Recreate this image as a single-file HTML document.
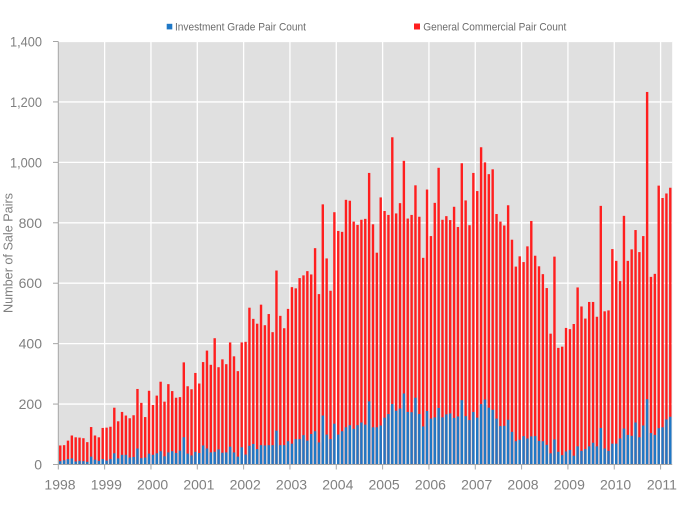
<!DOCTYPE html>
<html>
<head>
<meta charset="utf-8">
<style>
  html,body{margin:0;padding:0;background:#fff;}
  svg{display:block;}
  text{font-family:"Liberation Sans",sans-serif;}
</style>
</head>
<body>
<svg width="700" height="506" viewBox="0 0 700 506" xmlns="http://www.w3.org/2000/svg">
  <!-- plot background -->
  <rect x="58.3" y="41.5" width="613.9" height="423" fill="#e0e0e0"/>
  <!-- horizontal gridlines -->
  <g stroke="#ffffff" stroke-width="1.3">
    <line x1="58.3" x2="672.2" y1="404.07" y2="404.07"/>
    <line x1="58.3" x2="672.2" y1="343.64" y2="343.64"/>
    <line x1="58.3" x2="672.2" y1="283.21" y2="283.21"/>
    <line x1="58.3" x2="672.2" y1="222.79" y2="222.79"/>
    <line x1="58.3" x2="672.2" y1="162.36" y2="162.36"/>
    <line x1="58.3" x2="672.2" y1="101.93" y2="101.93"/>
    <line x1="58.3" x2="672.2" y1="41.5" y2="41.5"/>
  </g>
  <!-- vertical gridlines -->
  <g stroke="#ffffff" stroke-width="1.3">
    <line y1="41.5" y2="464.5" x1="104.63" x2="104.63"/>
    <line y1="41.5" y2="464.5" x1="150.96" x2="150.96"/>
    <line y1="41.5" y2="464.5" x1="197.29" x2="197.29"/>
    <line y1="41.5" y2="464.5" x1="243.62" x2="243.62"/>
    <line y1="41.5" y2="464.5" x1="289.95" x2="289.95"/>
    <line y1="41.5" y2="464.5" x1="336.28" x2="336.28"/>
    <line y1="41.5" y2="464.5" x1="382.61" x2="382.61"/>
    <line y1="41.5" y2="464.5" x1="428.94" x2="428.94"/>
    <line y1="41.5" y2="464.5" x1="475.27" x2="475.27"/>
    <line y1="41.5" y2="464.5" x1="521.60" x2="521.60"/>
    <line y1="41.5" y2="464.5" x1="567.93" x2="567.93"/>
    <line y1="41.5" y2="464.5" x1="614.26" x2="614.26"/>
    <line y1="41.5" y2="464.5" x1="660.59" x2="660.59"/>
  </g>

  <!-- bars: x unit = month index, y unit = count -->
  <g transform="translate(59.05,464.5) scale(3.861,-0.302143)">
    <g fill="#ff1f1f">
      <rect x="0" width="0.62" height="63"/><rect x="1" width="0.62" height="64"/><rect x="2" width="0.62" height="79"/><rect x="3" width="0.62" height="96"/><rect x="4" width="0.62" height="90"/><rect x="5" width="0.62" height="89"/><rect x="6" width="0.62" height="87"/><rect x="7" width="0.62" height="74"/><rect x="8" width="0.62" height="124"/><rect x="9" width="0.62" height="96"/><rect x="10" width="0.62" height="90"/><rect x="11" width="0.62" height="121"/>
      <rect x="12" width="0.62" height="122"/><rect x="13" width="0.62" height="125"/><rect x="14" width="0.62" height="188"/><rect x="15" width="0.62" height="143"/><rect x="16" width="0.62" height="174"/><rect x="17" width="0.62" height="162"/><rect x="18" width="0.62" height="153"/><rect x="19" width="0.62" height="163"/><rect x="20" width="0.62" height="250"/><rect x="21" width="0.62" height="204"/><rect x="22" width="0.62" height="157"/><rect x="23" width="0.62" height="244"/>
      <rect x="24" width="0.62" height="197"/><rect x="25" width="0.62" height="228"/><rect x="26" width="0.62" height="274"/><rect x="27" width="0.62" height="208"/><rect x="28" width="0.62" height="266"/><rect x="29" width="0.62" height="243"/><rect x="30" width="0.62" height="221"/><rect x="31" width="0.62" height="223"/><rect x="32" width="0.62" height="338"/><rect x="33" width="0.62" height="259"/><rect x="34" width="0.62" height="249"/><rect x="35" width="0.62" height="303"/>
      <rect x="36" width="0.62" height="268"/><rect x="37" width="0.62" height="339"/><rect x="38" width="0.62" height="377"/><rect x="39" width="0.62" height="330"/><rect x="40" width="0.62" height="418"/><rect x="41" width="0.62" height="322"/><rect x="42" width="0.62" height="348"/><rect x="43" width="0.62" height="332"/><rect x="44" width="0.62" height="404"/><rect x="45" width="0.62" height="358"/><rect x="46" width="0.62" height="309"/><rect x="47" width="0.62" height="404"/>
      <rect x="48" width="0.62" height="406"/><rect x="49" width="0.62" height="519"/><rect x="50" width="0.62" height="482"/><rect x="51" width="0.62" height="466"/><rect x="52" width="0.62" height="529"/><rect x="53" width="0.62" height="461"/><rect x="54" width="0.62" height="498"/><rect x="55" width="0.62" height="438"/><rect x="56" width="0.62" height="642"/><rect x="57" width="0.62" height="492"/><rect x="58" width="0.62" height="451"/><rect x="59" width="0.62" height="515"/>
      <rect x="60" width="0.62" height="587"/><rect x="61" width="0.62" height="583"/><rect x="62" width="0.62" height="617"/><rect x="63" width="0.62" height="626"/><rect x="64" width="0.62" height="640"/><rect x="65" width="0.62" height="629"/><rect x="66" width="0.62" height="716"/><rect x="67" width="0.62" height="564"/><rect x="68" width="0.62" height="861"/><rect x="69" width="0.62" height="682"/><rect x="70" width="0.62" height="575"/><rect x="71" width="0.62" height="835"/>
      <rect x="72" width="0.62" height="773"/><rect x="73" width="0.62" height="770"/><rect x="74" width="0.62" height="876"/><rect x="75" width="0.62" height="873"/><rect x="76" width="0.62" height="804"/><rect x="77" width="0.62" height="793"/><rect x="78" width="0.62" height="810"/><rect x="79" width="0.62" height="813"/><rect x="80" width="0.62" height="965"/><rect x="81" width="0.62" height="795"/><rect x="82" width="0.62" height="701"/><rect x="83" width="0.62" height="884"/>
      <rect x="84" width="0.62" height="839"/><rect x="85" width="0.62" height="826"/><rect x="86" width="0.62" height="1083"/><rect x="87" width="0.62" height="831"/><rect x="88" width="0.62" height="865"/><rect x="89" width="0.62" height="1005"/><rect x="90" width="0.62" height="814"/><rect x="91" width="0.62" height="826"/><rect x="92" width="0.62" height="924"/><rect x="93" width="0.62" height="820"/><rect x="94" width="0.62" height="684"/><rect x="95" width="0.62" height="910"/>
      <rect x="96" width="0.62" height="756"/><rect x="97" width="0.62" height="866"/><rect x="98" width="0.62" height="982"/><rect x="99" width="0.62" height="810"/><rect x="100" width="0.62" height="822"/><rect x="101" width="0.62" height="809"/><rect x="102" width="0.62" height="853"/><rect x="103" width="0.62" height="786"/><rect x="104" width="0.62" height="997"/><rect x="105" width="0.62" height="874"/><rect x="106" width="0.62" height="792"/><rect x="107" width="0.62" height="965"/>
      <rect x="108" width="0.62" height="905"/><rect x="109" width="0.62" height="1050"/><rect x="110" width="0.62" height="1000"/><rect x="111" width="0.62" height="961"/><rect x="112" width="0.62" height="977"/><rect x="113" width="0.62" height="829"/><rect x="114" width="0.62" height="804"/><rect x="115" width="0.62" height="791"/><rect x="116" width="0.62" height="858"/><rect x="117" width="0.62" height="744"/><rect x="118" width="0.62" height="655"/><rect x="119" width="0.62" height="689"/>
      <rect x="120" width="0.62" height="670"/><rect x="121" width="0.62" height="722"/><rect x="122" width="0.62" height="806"/><rect x="123" width="0.62" height="691"/><rect x="124" width="0.62" height="656"/><rect x="125" width="0.62" height="630"/><rect x="126" width="0.62" height="584"/><rect x="127" width="0.62" height="433"/><rect x="128" width="0.62" height="688"/><rect x="129" width="0.62" height="386"/><rect x="130" width="0.62" height="390"/><rect x="131" width="0.62" height="452"/>
      <rect x="132" width="0.62" height="448"/><rect x="133" width="0.62" height="465"/><rect x="134" width="0.62" height="586"/><rect x="135" width="0.62" height="523"/><rect x="136" width="0.62" height="483"/><rect x="137" width="0.62" height="538"/><rect x="138" width="0.62" height="538"/><rect x="139" width="0.62" height="489"/><rect x="140" width="0.62" height="856"/><rect x="141" width="0.62" height="507"/><rect x="142" width="0.62" height="510"/><rect x="143" width="0.62" height="713"/>
      <rect x="144" width="0.62" height="674"/><rect x="145" width="0.62" height="607"/><rect x="146" width="0.62" height="823"/><rect x="147" width="0.62" height="674"/><rect x="148" width="0.62" height="712"/><rect x="149" width="0.62" height="776"/><rect x="150" width="0.62" height="703"/><rect x="151" width="0.62" height="756"/><rect x="152" width="0.62" height="1233"/><rect x="153" width="0.62" height="621"/><rect x="154" width="0.62" height="631"/><rect x="155" width="0.62" height="923"/>
      <rect x="156" width="0.62" height="882"/><rect x="157" width="0.62" height="897"/><rect x="158" width="0.62" height="916"/>
    </g>
    <g fill="#1f78c6">
      <rect x="0" width="0.62" height="11"/><rect x="1" width="0.62" height="14"/><rect x="2" width="0.62" height="18"/><rect x="3" width="0.62" height="20"/><rect x="4" width="0.62" height="10"/><rect x="5" width="0.62" height="12"/><rect x="6" width="0.62" height="11"/><rect x="7" width="0.62" height="9"/><rect x="8" width="0.62" height="26"/><rect x="9" width="0.62" height="16"/><rect x="10" width="0.62" height="12"/><rect x="11" width="0.62" height="18"/>
      <rect x="12" width="0.62" height="13"/><rect x="13" width="0.62" height="18"/><rect x="14" width="0.62" height="37"/><rect x="15" width="0.62" height="20"/><rect x="16" width="0.62" height="32"/><rect x="17" width="0.62" height="32"/><rect x="18" width="0.62" height="23"/><rect x="19" width="0.62" height="25"/><rect x="20" width="0.62" height="53"/><rect x="21" width="0.62" height="21"/><rect x="22" width="0.62" height="23"/><rect x="23" width="0.62" height="36"/>
      <rect x="24" width="0.62" height="32"/><rect x="25" width="0.62" height="37"/><rect x="26" width="0.62" height="44"/><rect x="27" width="0.62" height="27"/><rect x="28" width="0.62" height="40"/><rect x="29" width="0.62" height="44"/><rect x="30" width="0.62" height="38"/><rect x="31" width="0.62" height="46"/><rect x="32" width="0.62" height="90"/><rect x="33" width="0.62" height="36"/><rect x="34" width="0.62" height="30"/><rect x="35" width="0.62" height="42"/>
      <rect x="36" width="0.62" height="38"/><rect x="37" width="0.62" height="63"/><rect x="38" width="0.62" height="53"/><rect x="39" width="0.62" height="40"/><rect x="40" width="0.62" height="42"/><rect x="41" width="0.62" height="50"/><rect x="42" width="0.62" height="39"/><rect x="43" width="0.62" height="40"/><rect x="44" width="0.62" height="59"/><rect x="45" width="0.62" height="40"/><rect x="46" width="0.62" height="26"/><rect x="47" width="0.62" height="57"/>
      <rect x="48" width="0.62" height="33"/><rect x="49" width="0.62" height="62"/><rect x="50" width="0.62" height="68"/><rect x="51" width="0.62" height="51"/><rect x="52" width="0.62" height="64"/><rect x="53" width="0.62" height="63"/><rect x="54" width="0.62" height="64"/><rect x="55" width="0.62" height="64"/><rect x="56" width="0.62" height="112"/><rect x="57" width="0.62" height="64"/><rect x="58" width="0.62" height="64"/><rect x="59" width="0.62" height="77"/>
      <rect x="60" width="0.62" height="69"/><rect x="61" width="0.62" height="84"/><rect x="62" width="0.62" height="84"/><rect x="63" width="0.62" height="97"/><rect x="64" width="0.62" height="79"/><rect x="65" width="0.62" height="101"/><rect x="66" width="0.62" height="110"/><rect x="67" width="0.62" height="73"/><rect x="68" width="0.62" height="162"/><rect x="69" width="0.62" height="99"/><rect x="70" width="0.62" height="84"/><rect x="71" width="0.62" height="135"/>
      <rect x="72" width="0.62" height="99"/><rect x="73" width="0.62" height="110"/><rect x="74" width="0.62" height="123"/><rect x="75" width="0.62" height="130"/><rect x="76" width="0.62" height="118"/><rect x="77" width="0.62" height="130"/><rect x="78" width="0.62" height="139"/><rect x="79" width="0.62" height="132"/><rect x="80" width="0.62" height="209"/><rect x="81" width="0.62" height="123"/><rect x="82" width="0.62" height="123"/><rect x="83" width="0.62" height="129"/>
      <rect x="84" width="0.62" height="155"/><rect x="85" width="0.62" height="167"/><rect x="86" width="0.62" height="200"/><rect x="87" width="0.62" height="178"/><rect x="88" width="0.62" height="185"/><rect x="89" width="0.62" height="235"/><rect x="90" width="0.62" height="174"/><rect x="91" width="0.62" height="173"/><rect x="92" width="0.62" height="221"/><rect x="93" width="0.62" height="167"/><rect x="94" width="0.62" height="126"/><rect x="95" width="0.62" height="177"/>
      <rect x="96" width="0.62" height="152"/><rect x="97" width="0.62" height="156"/><rect x="98" width="0.62" height="187"/><rect x="99" width="0.62" height="156"/><rect x="100" width="0.62" height="166"/><rect x="101" width="0.62" height="169"/><rect x="102" width="0.62" height="154"/><rect x="103" width="0.62" height="159"/><rect x="104" width="0.62" height="213"/><rect x="105" width="0.62" height="160"/><rect x="106" width="0.62" height="147"/><rect x="107" width="0.62" height="174"/>
      <rect x="108" width="0.62" height="155"/><rect x="109" width="0.62" height="200"/><rect x="110" width="0.62" height="215"/><rect x="111" width="0.62" height="188"/><rect x="112" width="0.62" height="181"/><rect x="113" width="0.62" height="152"/><rect x="114" width="0.62" height="127"/><rect x="115" width="0.62" height="128"/><rect x="116" width="0.62" height="148"/><rect x="117" width="0.62" height="108"/><rect x="118" width="0.62" height="77"/><rect x="119" width="0.62" height="82"/>
      <rect x="120" width="0.62" height="94"/><rect x="121" width="0.62" height="86"/><rect x="122" width="0.62" height="93"/><rect x="123" width="0.62" height="94"/><rect x="124" width="0.62" height="78"/><rect x="125" width="0.62" height="77"/><rect x="126" width="0.62" height="65"/><rect x="127" width="0.62" height="37"/><rect x="128" width="0.62" height="83"/><rect x="129" width="0.62" height="42"/><rect x="130" width="0.62" height="31"/><rect x="131" width="0.62" height="43"/>
      <rect x="132" width="0.62" height="48"/><rect x="133" width="0.62" height="29"/><rect x="134" width="0.62" height="60"/><rect x="135" width="0.62" height="45"/><rect x="136" width="0.62" height="51"/><rect x="137" width="0.62" height="60"/><rect x="138" width="0.62" height="72"/><rect x="139" width="0.62" height="60"/><rect x="140" width="0.62" height="121"/><rect x="141" width="0.62" height="53"/><rect x="142" width="0.62" height="45"/><rect x="143" width="0.62" height="69"/>
      <rect x="144" width="0.62" height="69"/><rect x="145" width="0.62" height="86"/><rect x="146" width="0.62" height="119"/><rect x="147" width="0.62" height="98"/><rect x="148" width="0.62" height="95"/><rect x="149" width="0.62" height="139"/><rect x="150" width="0.62" height="90"/><rect x="151" width="0.62" height="129"/><rect x="152" width="0.62" height="216"/><rect x="153" width="0.62" height="104"/><rect x="154" width="0.62" height="98"/><rect x="155" width="0.62" height="120"/>
      <rect x="156" width="0.62" height="123"/><rect x="157" width="0.62" height="149"/><rect x="158" width="0.62" height="158"/>
    </g>
  </g>

  <!-- axes -->
  <g stroke="#a6a6a6" stroke-width="1">
    <line x1="58.3" x2="58.3" y1="41.5" y2="464.5"/>
    <line x1="58.3" x2="672.2" y1="464.5" y2="464.5"/>
    <!-- y ticks -->
    <line x1="53" x2="58.3" y1="464.5" y2="464.5"/>
    <line x1="53" x2="58.3" y1="404.07" y2="404.07"/>
    <line x1="53" x2="58.3" y1="343.64" y2="343.64"/>
    <line x1="53" x2="58.3" y1="283.21" y2="283.21"/>
    <line x1="53" x2="58.3" y1="222.79" y2="222.79"/>
    <line x1="53" x2="58.3" y1="162.36" y2="162.36"/>
    <line x1="53" x2="58.3" y1="101.93" y2="101.93"/>
    <line x1="53" x2="58.3" y1="41.5" y2="41.5"/>
    <!-- x ticks -->
    <line y1="464.5" y2="469.5" x1="58.3" x2="58.3"/>
    <line y1="464.5" y2="469.5" x1="104.63" x2="104.63"/>
    <line y1="464.5" y2="469.5" x1="150.96" x2="150.96"/>
    <line y1="464.5" y2="469.5" x1="197.29" x2="197.29"/>
    <line y1="464.5" y2="469.5" x1="243.62" x2="243.62"/>
    <line y1="464.5" y2="469.5" x1="289.95" x2="289.95"/>
    <line y1="464.5" y2="469.5" x1="336.28" x2="336.28"/>
    <line y1="464.5" y2="469.5" x1="382.61" x2="382.61"/>
    <line y1="464.5" y2="469.5" x1="428.94" x2="428.94"/>
    <line y1="464.5" y2="469.5" x1="475.27" x2="475.27"/>
    <line y1="464.5" y2="469.5" x1="521.60" x2="521.60"/>
    <line y1="464.5" y2="469.5" x1="567.93" x2="567.93"/>
    <line y1="464.5" y2="469.5" x1="614.26" x2="614.26"/>
    <line y1="464.5" y2="469.5" x1="660.59" x2="660.59"/>
  </g>

  <!-- y tick labels -->
  <g fill="#808080" font-size="14" text-anchor="end">
    <text x="42" y="469.5">0</text>
    <text x="42" y="409">200</text>
    <text x="42" y="348.6">400</text>
    <text x="42" y="288.2">600</text>
    <text x="42" y="227.8">800</text>
    <text x="42" y="167.4" textLength="32" lengthAdjust="spacingAndGlyphs">1,000</text>
    <text x="42" y="107" textLength="32" lengthAdjust="spacingAndGlyphs">1,200</text>
    <text x="42" y="46.5" textLength="32" lengthAdjust="spacingAndGlyphs">1,400</text>
  </g>

  <!-- x tick labels -->
  <g fill="#808080" font-size="14" text-anchor="middle">
    <text x="60" y="489.5">1998</text>
    <text x="106.3" y="489.5">1999</text>
    <text x="152.6" y="489.5">2000</text>
    <text x="198.9" y="489.5">2001</text>
    <text x="245.2" y="489.5">2002</text>
    <text x="291.5" y="489.5">2003</text>
    <text x="337.8" y="489.5">2004</text>
    <text x="384.1" y="489.5">2005</text>
    <text x="430.4" y="489.5">2006</text>
    <text x="476.7" y="489.5">2007</text>
    <text x="523" y="489.5">2008</text>
    <text x="569.3" y="489.5">2009</text>
    <text x="615.6" y="489.5">2010</text>
    <text x="661.9" y="489.5">2011</text>
  </g>

  <!-- y axis title -->
  <text transform="translate(12.5,253) rotate(-90)" fill="#808080" font-size="13" text-anchor="middle" textLength="120" lengthAdjust="spacingAndGlyphs">Number of Sale Pairs</text>

  <!-- legend -->
  <rect x="166.7" y="23.8" width="5.6" height="5.6" fill="#1f78c6"/>
  <text x="175" y="30.5" fill="#6b6b6b" font-size="11" textLength="131" lengthAdjust="spacingAndGlyphs">Investment Grade Pair Count</text>
  <rect x="414" y="23.5" width="6" height="6" fill="#ff1f1f"/>
  <text x="423.3" y="30.5" fill="#6b6b6b" font-size="11" textLength="143" lengthAdjust="spacingAndGlyphs">General Commercial Pair Count</text>
</svg>
</body>
</html>
